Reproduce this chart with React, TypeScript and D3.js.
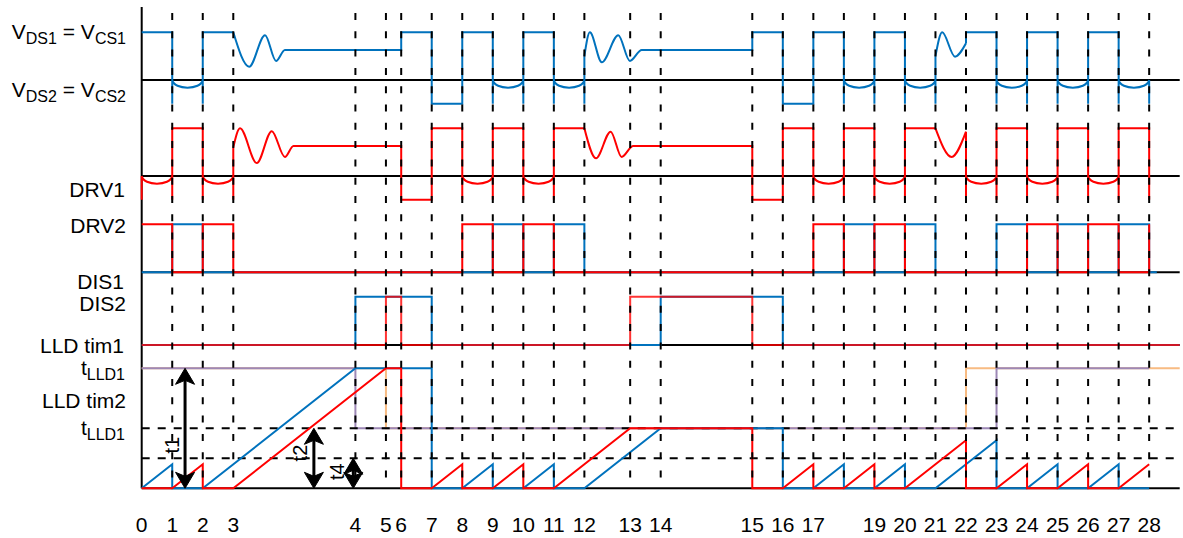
import React from "react";
import * as d3 from "d3";

type Pt = [number, number];
type Seg = { kind: "line" | "smooth" | "dip"; pts: Pt[] };
const L = (...pts: Pt[]): Seg => ({ kind: "line", pts });
const S = (...pts: Pt[]): Seg => ({ kind: "smooth", pts });
const D = (t1: number, t2: number): Seg => ({ kind: "dip", pts: [[t1, 0], [t2, 0]] });

// ---------- DATA ----------
// time (in time units) of each numbered event line 0..28
const eventTimes = [0, 1, 2, 3, 7, 8, 8.5, 9.5, 10.5, 11.5, 12.5, 13.5, 14.5, 16, 17, 20, 21, 22, 23, 24, 25, 26, 27, 28, 29, 30, 31, 32, 33];
const eventLabels = ["0", "1", "2", "3", "4", "5", "6", "7", "8", "9", "10", "11", "12", "13", "14", "15", "16", "17", "", "19", "20", "21", "22", "23", "24", "25", "26", "27", "28"];

// Row 1: VDS1 = VCS1 (blue); 1 = high, 0 = zero line, -0.5 = low
const vdsSeries: Seg[] = [
  L([0, 1], [1, 1], [1, -0.5]), D(1, 2), L([2, -0.5], [2, 1], [3, 1]),
  S([3, 1], [3.52, 0.28], [4.04, 0.94], [4.4, 0.4], [4.69, 0.63], [4.9, 0.63]),
  L([4.9, 0.63], [8.5, 0.63], [8.5, 1], [9.5, 1], [9.5, -0.5], [10.5, -0.5], [10.5, 1], [11.5, 1], [11.5, -0.5]),
  D(11.5, 12.5), L([12.5, -0.5], [12.5, 1], [13.5, 1], [13.5, -0.5]),
  D(13.5, 14.5), L([14.5, -0.5], [14.5, 0.5]),
  S([14.5, 0.5], [14.68, 1.0], [15.07, 0.37], [15.61, 0.94], [15.99, 0.4], [16.38, 0.63], [16.6, 0.63]),
  L([16.6, 0.63], [20, 0.63], [20, 1], [21, 1], [21, -0.5], [22, -0.5], [22, 1], [23, 1], [23, -0.5]),
  D(23, 24), L([24, -0.5], [24, 1], [25, 1], [25, -0.5]),
  D(25, 26), L([26, -0.5], [26, 0.5]),
  S([26, 0.5], [26.22, 1.0], [26.64, 0.49], [27, 0.77]),
  L([27, 0.77], [27, 1], [28, 1], [28, -0.5]),
  D(28, 29), L([29, -0.5], [29, 1], [30, 1], [30, -0.5]),
  D(30, 31), L([31, -0.5], [31, 1], [32, 1], [32, -0.5]),
  D(32, 33), L([33, 0], [33, -0.5]),
];

// Row 2: DRV1 row (red)
const drv1Series: Seg[] = [
  L([0, -0.5], [0, 0]), D(0, 1), L([1, -0.5], [1, 1], [2, 1], [2, -0.5]),
  D(2, 3), L([3, -0.5], [3, 0.6]),
  S([3, 0.6], [3.22, 1], [3.77, 0.27], [4.26, 0.94], [4.69, 0.4], [4.97, 0.63], [5.2, 0.63]),
  L([5.2, 0.63], [8.5, 0.63], [8.5, -0.5], [9.5, -0.5], [9.5, 1], [10.5, 1], [10.5, -0.5]),
  D(10.5, 11.5), L([11.5, -0.5], [11.5, 1], [12.5, 1], [12.5, -0.5]),
  D(12.5, 13.5), L([13.5, -0.5], [13.5, 1], [14.5, 1]),
  S([14.5, 1], [14.88, 0.37], [15.36, 0.93], [15.72, 0.4], [16.1, 0.63], [16.3, 0.63]),
  L([16.3, 0.63], [20, 0.63], [20, -0.5], [21, -0.5], [21, 1], [22, 1], [22, -0.5]),
  D(22, 23), L([23, -0.5], [23, 1], [24, 1], [24, -0.5]),
  D(24, 25), L([25, -0.5], [25, 1], [26, 1]),
  S([26, 1], [26.53, 0.4], [27, 0.93]),
  L([27, 0.93], [27, -0.5]),
  D(27, 28), L([28, -0.5], [28, 1], [29, 1], [29, -0.5]),
  D(29, 30), L([30, -0.5], [30, 1], [31, 1], [31, -0.5]),
  D(31, 32), L([32, -0.5], [32, 1], [33, 1], [33, -0.5]),
];

// Row 3: DRV2
const drv2Blue: Pt[] = [[0, 0], [1, 0], [1, 1], [2, 1], [2, 0], [11.5, 0], [11.5, 1], [12.5, 1], [12.5, 0], [13.5, 0], [13.5, 1], [14.5, 1], [14.5, 0], [23, 0], [23, 1], [24, 1], [24, 0], [25, 0], [25, 1], [26, 1], [26, 0], [28, 0], [28, 1], [29, 1], [29, 0], [30, 0], [30, 1], [31, 1], [31, 0], [32, 0], [32, 1], [33, 1], [33, 0], [33.25, 0]];
const drv2Red: Pt[] = [[0, 1], [1, 1], [1, 0], [2, 0], [2, 1], [3, 1], [3, 0], [10.5, 0], [10.5, 1], [11.5, 1], [11.5, 0], [12.5, 0], [12.5, 1], [13.5, 1], [13.5, 0], [22, 0], [22, 1], [23, 1], [23, 0], [24, 0], [24, 1], [25, 1], [25, 0], [29, 0], [29, 1], [30, 1], [30, 0], [31, 0], [31, 1], [32, 1], [32, 0], [33, 0], [33, 1]];

// Row 4: DIS1 (blue) / DIS2 (red)
const disBlue: Pt[] = [[0, 0], [7, 0], [7, 1], [9.5, 1], [9.5, 0], [17, 0], [17, 1], [21, 1], [21, 0], [34, 0]];
const disRed: Pt[] = [[0, 0], [8, 0], [8, 1], [8.5, 1], [8.5, 0], [16, 0], [16, 1], [20, 1], [20, 0], [34, 0]];

// Row 5: LLD timers (value = elapsed time units; tLLD1 = 5, then 2.5)
const timBlue: Pt[] = [[0, 0], [1, 1], [1, 0], [2, 0], [7, 5], [9.5, 5], [9.5, 0], [10.5, 0], [11.5, 1], [11.5, 0], [12.5, 0], [13.5, 1], [13.5, 0], [14.5, 0], [17, 2.5], [21, 2.5], [21, 0], [22, 0], [23, 1], [23, 0], [24, 0], [25, 1], [25, 0], [26, 0], [28, 2], [28, 0], [29, 0], [30, 1], [30, 0], [31, 0], [32, 1], [32, 0], [33, 0]];
const timRed: Pt[] = [[0, 0], [1, 0], [2, 1], [2, 0], [3, 0], [8, 5], [8.5, 5], [8.5, 0], [9.5, 0], [10.5, 1], [10.5, 0], [11.5, 0], [12.5, 1], [12.5, 0], [13.5, 0], [16, 2.5], [20, 2.5], [20, 0], [21, 0], [22, 1], [22, 0], [23, 0], [24, 1], [24, 0], [25, 0], [27, 2], [27, 0], [28, 0], [29, 1], [29, 0], [30, 0], [31, 1], [31, 0], [32, 0], [33, 1]];
const thresholdOrange: Pt[] = [[0, 5], [8, 5], [8, 2.5], [27, 2.5], [27, 5], [34, 5]];
const thresholdPurple: Pt[] = [[0, 5], [7, 5], [7, 2.5], [28, 2.5], [28, 5], [33, 5]];
const timerGuides = [2.5, 1.25];

const arrows = [
  { label: "t1", t: 1.42, from: 5, to: 0, lt: 0.99, lv: 1.8 },
  { label: "t2", t: 5.64, from: 2.5, to: 0, lt: 5.18, lv: 1.47 },
  { label: "t4", t: 6.93, from: 1.25, to: 0, lt: 6.39, lv: 0.69 },
];

// ---------- LAYOUT ----------
const W = 1183, H = 538;
const x = d3.scaleLinear().domain([0, 34]).range([141.7, 1179.7]);
const y1 = d3.scaleLinear().domain([0, 1]).range([80, 32.3]);
const y2 = d3.scaleLinear().domain([0, 1]).range([176, 128.3]);
const y3 = d3.scaleLinear().domain([0, 1]).range([272.3, 224.3]);
const y4 = d3.scaleLinear().domain([0, 1]).range([345, 296.7]);
const y5 = d3.scaleLinear().domain([0, 5]).range([488.3, 368.3]);
const DIP = -0.16;

const BLUE = "#0072bd";
const RED = "#ff0000";
const PURPLE = "#9d88b6";
const ORANGE = "#f8bb82";
const FONT = "'Liberation Sans', Arial, Helvetica, sans-serif";

function segPath(segs: Seg[], ys: d3.ScaleLinear<number, number>): string {
  let s = "";
  for (const seg of segs) {
    if (seg.kind === "dip") {
      const x1 = x(seg.pts[0][0]), x2 = x(seg.pts[1][0]);
      const y0 = ys(0);
      const yc = y0 + (ys(DIP) - y0) * (4 / 3);
      const w = x2 - x1;
      s += `M${x1},${y0}C${x1 + 0.06 * w},${yc} ${x2 - 0.06 * w},${yc} ${x2},${y0}`;
    } else {
      const g = d3.line<Pt>().x((d) => x(d[0])).y((d) => ys(d[1]))
        .curve(seg.kind === "smooth" ? d3.curveMonotoneX : d3.curveLinear);
      s += g(seg.pts) || "";
    }
  }
  return s;
}

function linePath(pts: Pt[], ys: d3.ScaleLinear<number, number>): string {
  return d3.line<Pt>().x((d) => x(d[0])).y((d) => ys(d[1]))(pts) || "";
}

function Arrowhead({ cx, cy, dir }: { cx: number; cy: number; dir: number }) {
  // dir = -1 pointing up, +1 pointing down; (cx,cy) = tip
  const l = 16, w = 9.5, n = 12;
  const d = `M${cx},${cy} L${cx - w},${cy - dir * l} L${cx},${cy - dir * n} L${cx + w},${cy - dir * l} Z`;
  return <path d={d} fill="#000" stroke="#000" strokeWidth={1} strokeLinejoin="round" />;
}

export default function App() {
  const baseLines = [y1(0), y2(0), y3(0), y4(0), y5(0)];
  const sub = 16;
  return (
    <svg width={W} height={H} style={{ position: "fixed", left: 0, top: 0, background: "#fff" }} fontFamily={FONT}>
      <rect x={0} y={0} width={W} height={H} fill="#fff" />
      {/* zero lines */}
      {baseLines.map((b, i) => (
        <line key={i} x1={x(0)} x2={x(34)} y1={b} y2={b} stroke="#000" strokeWidth={2} />
      ))}
      {/* vertical axis */}
      <line x1={x(0)} x2={x(0)} y1={7} y2={y5(0)} stroke="#000" strokeWidth={2} />

      {/* threshold lines */}
      <path d={linePath(thresholdOrange, y5)} fill="none" stroke={ORANGE} strokeWidth={2} />
      <path d={linePath(thresholdPurple, y5)} fill="none" stroke={PURPLE} strokeWidth={2} />
      {timerGuides.map((g) => (
        <line key={g} x1={x(0)} x2={x(34)} y1={y5(g)} y2={y5(g)} stroke="#000" strokeWidth={2} strokeDasharray="8,8" />
      ))}

      {/* signals */}
      <path d={segPath(vdsSeries, y1)} fill="none" stroke={BLUE} strokeWidth={2} />
      <path d={segPath(drv1Series, y2)} fill="none" stroke={RED} strokeWidth={2} />
      <path d={linePath(drv2Blue, y3)} fill="none" stroke={BLUE} strokeWidth={2} />
      <path d={linePath(drv2Red, y3)} fill="none" stroke={RED} strokeWidth={2} />
      <path d={linePath(disBlue, y4)} fill="none" stroke={BLUE} strokeWidth={2} />
      <path d={linePath(disRed, y4)} fill="none" stroke={RED} strokeOpacity={0.8} strokeWidth={2} />
      <path d={linePath(timBlue, y5)} fill="none" stroke={BLUE} strokeWidth={2} />
      <path d={linePath(timRed, y5)} fill="none" stroke={RED} strokeWidth={2} />

      {/* event dashed lines */}
      {eventTimes.slice(1).map((t, i) => (
        <line key={i} x1={x(t)} x2={x(t)} y1={13} y2={y5(0)} stroke="#000" strokeWidth={2} strokeDasharray="7,11.3" />
      ))}

      {/* arrows */}
      {arrows.map((a) => (
        <g key={a.label}>
          <line x1={x(a.t)} x2={x(a.t)} y1={y5(a.from) + 10} y2={y5(a.to) - 10} stroke="#000" strokeWidth={3} />
          <Arrowhead cx={x(a.t)} cy={y5(a.from)} dir={-1} />
          <Arrowhead cx={x(a.t)} cy={y5(a.to)} dir={1} />
          <text x={x(a.lt)} y={y5(a.lv)} fontSize={20} textAnchor="middle" dominantBaseline="central"
            transform={`rotate(-90 ${x(a.lt)} ${y5(a.lv)})`}>{a.label}</text>
        </g>
      ))}

      {/* left labels */}
      <g fontSize={21} textAnchor="end" fill="#000">
        <text x={126} y={38.5}>V<tspan fontSize={sub} dy={5}>DS1</tspan><tspan dy={-5}> = V</tspan><tspan fontSize={sub} dy={5}>CS1</tspan></text>
        <text x={126} y={97}>V<tspan fontSize={sub} dy={5}>DS2</tspan><tspan dy={-5}> = V</tspan><tspan fontSize={sub} dy={5}>CS2</tspan></text>
        <text x={125} y={197}>DRV1</text>
        <text x={126} y={233}>DRV2</text>
        <text x={124} y={289}>DIS1</text>
        <text x={126} y={311}>DIS2</text>
        <text x={124} y={353}>LLD tim1</text>
        <text x={125} y={375}>t<tspan fontSize={sub} dy={5}>LLD1</tspan></text>
        <text x={126} y={408}>LLD tim2</text>
        <text x={125} y={435}>t<tspan fontSize={sub} dy={5}>LLD1</tspan></text>
      </g>

      {/* bottom event labels */}
      <g fontSize={21} textAnchor="middle" fill="#000">
        {eventTimes.map((t, i) => (
          <text key={i} x={x(t)} y={532}>{eventLabels[i]}</text>
        ))}
      </g>
    </svg>
  );
}
